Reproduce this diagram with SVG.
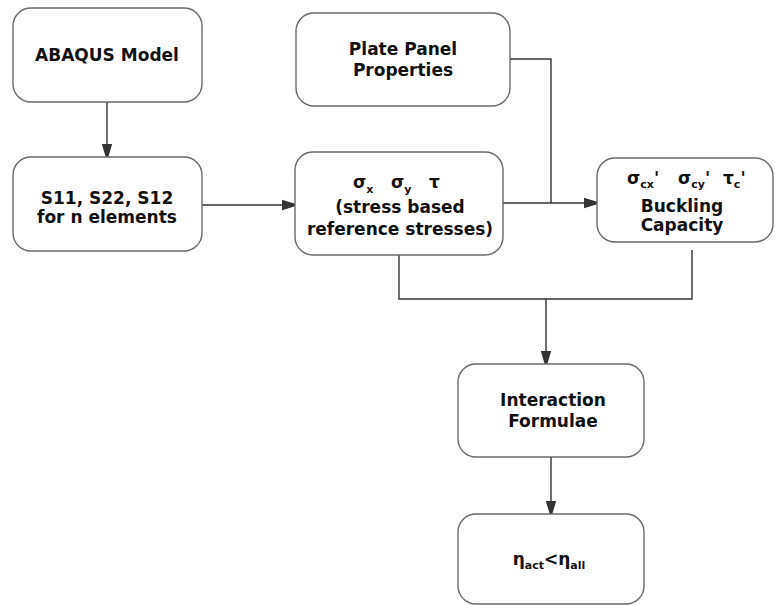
<svg xmlns="http://www.w3.org/2000/svg" width="775" height="605" viewBox="0 0 775 605">
<style>
.box{fill:#fff;stroke:#6a6a6a;stroke-width:1.4}
.t{font-family:"DejaVu Sans","Verdana",sans-serif;font-weight:bold;font-size:17px;fill:#111;text-anchor:middle}
.l{text-anchor:start}
.s{font-size:11px}
.c{fill:none;stroke:#333;stroke-width:1.4}
</style>
<defs>
<marker id="ah" viewBox="0 0 10 10" refX="10" refY="5" markerWidth="13" markerHeight="13" markerUnits="userSpaceOnUse" orient="auto">
<path d="M0,1 L10,4 L10,6 L0,9 Z" fill="#333"/>
</marker>
</defs>
<rect width="775" height="605" fill="#fff"/>
<g id="connectors">
<path class="c" d="M107,102 V157" marker-end="url(#ah)"/>
<path class="c" d="M202,205 H295" marker-end="url(#ah)"/>
<path class="c" d="M510,59 H551 V203"/>
<path class="c" d="M503,203 H597" marker-end="url(#ah)"/>
<path class="c" d="M399,255 V299 H692 V250"/>
<path class="c" d="M546,299 V364" marker-end="url(#ah)"/>
<path class="c" d="M551,457 V514" marker-end="url(#ah)"/>
</g>
<g id="abaqus">
<rect class="box" x="13" y="8" width="189" height="94" rx="18"/>
<text class="t" x="107" y="61">ABAQUS Model</text>
</g>
<g id="s11">
<rect class="box" x="13" y="157" width="189" height="94" rx="18"/>
<text class="t" x="107" y="204">S11, S22, S12</text>
<text class="t" x="107" y="223">for n elements</text>
</g>
<g id="plate">
<rect class="box" x="296" y="13" width="214" height="93" rx="18"/>
<text class="t" x="403" y="55">Plate Panel</text>
<text class="t" x="403" y="76">Properties</text>
</g>
<g id="stress">
<rect class="box" x="295" y="152" width="208" height="103" rx="18"/>
<text class="t l" x="353" y="188">σ<tspan class="s" dy="5">x</tspan></text>
<text class="t l" x="391" y="188">σ<tspan class="s" dy="5">y</tspan></text>
<text class="t l" x="429" y="188">τ</text>
<text class="t" x="400" y="213">(stress based</text>
<text class="t" x="400" y="235">reference stresses)</text>
</g>
<g id="buckling">
<rect class="box" x="597" y="158" width="176" height="84" rx="18"/>
<text class="t l" x="627" y="184">σ<tspan class="s" dy="4">cx</tspan><tspan dy="-4">'</tspan></text>
<text class="t l" x="678" y="184">σ<tspan class="s" dy="4">cy</tspan><tspan dy="-4">'</tspan></text>
<text class="t l" x="723" y="184">τ<tspan class="s" dy="4">c</tspan><tspan dy="-4">'</tspan></text>
<text class="t" x="682" y="212">Buckling</text>
<text class="t" x="682" y="231">Capacity</text>
</g>
<g id="interaction">
<rect class="box" x="458" y="364" width="186" height="93" rx="18"/>
<text class="t" x="553" y="406">Interaction</text>
<text class="t" x="553" y="427">Formulae</text>
</g>
<g id="eta">
<rect class="box" x="458" y="514" width="186" height="90" rx="18"/>
<text class="t" x="549" y="565">η<tspan class="s" dy="4">act</tspan><tspan dy="-4">&lt;η</tspan><tspan class="s" dy="4">all</tspan></text>
</g>
</svg>
